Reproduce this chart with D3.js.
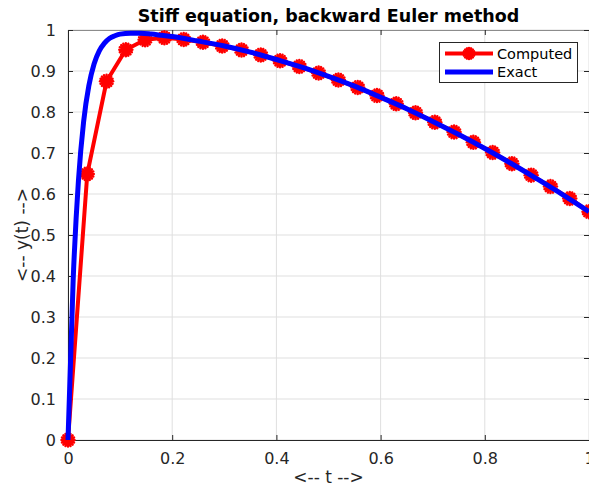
<!DOCTYPE html>
<html lang="en">
<head>
<meta charset="UTF-8">
<title>Stiff equation, backward Euler method</title>
<script src="https://cdn.jsdelivr.net/npm/d3@7"></script>
<style>
  body { margin: 0; background: #fff; font-family: "DejaVu Sans", sans-serif; }
</style>
</head>
<body>
<div id="chart"></div>
<script>
// computed solution (backward Euler, 28 points)
const tComputed = [0, 0.037, 0.074, 0.111, 0.148, 0.185, 0.222, 0.259, 0.296, 0.333,
  0.370, 0.407, 0.444, 0.481, 0.519, 0.556, 0.593, 0.630, 0.667, 0.704,
  0.741, 0.778, 0.815, 0.852, 0.889, 0.926, 0.963, 1.0];
const yComputed = [0, 0.649, 0.875, 0.952, 0.976, 0.981, 0.977, 0.970, 0.961, 0.951,
  0.939, 0.925, 0.911, 0.895, 0.878, 0.860, 0.840, 0.820, 0.798, 0.775,
  0.751, 0.726, 0.701, 0.674, 0.646, 0.618, 0.589, 0.557];

// exact solution
const tExact = [0, 0.01, 0.02, 0.03, 0.04, 0.05, 0.06, 0.07, 0.08, 0.09, 0.10, 0.12, 0.14,
  0.16, 0.18, 0.2, 0.25, 0.3, 0.35, 0.4, 0.45, 0.5, 0.55, 0.6, 0.65, 0.7, 0.75,
  0.8, 0.85, 0.9, 0.95, 1.0];
const yExact = [0, 0.393, 0.632, 0.777, 0.864, 0.917, 0.949, 0.968, 0.980, 0.986, 0.990, 0.992, 0.992,
  0.990, 0.987, 0.984, 0.973, 0.961, 0.946, 0.928, 0.909, 0.887, 0.863, 0.836, 0.808, 0.777, 0.745,
  0.711, 0.675, 0.637, 0.598, 0.557];

const xTicks = [0, 0.2, 0.4, 0.6, 0.8, 1];
const yTicks = [0, 0.1, 0.2, 0.3, 0.4, 0.5, 0.6, 0.7, 0.8, 0.9, 1];
const seriesNames = ["Computed", "Exact"];

const W = 589, H = 487;
const m = { left: 68, right: 0, top: 30, bottom: 47 };

const svg = d3.select("#chart").append("svg")
  .attr("width", W).attr("height", H)
  .style("font-family", "'DejaVu Sans', sans-serif");

const x = d3.scaleLinear().domain([0, 1]).range([m.left, W - m.right]);
const y = d3.scaleLinear().domain([0, 1]).range([H - m.bottom, m.top]);

const axColor = "#262626";

// grid
svg.append("g").selectAll("line.gx").data(xTicks).enter().append("line")
  .attr("x1", d => x(d)).attr("x2", d => x(d))
  .attr("y1", y(0)).attr("y2", y(1))
  .attr("stroke", "#dfdfdf").attr("stroke-width", 1);
svg.append("g").selectAll("line.gy").data(yTicks).enter().append("line")
  .attr("x1", x(0)).attr("x2", x(1))
  .attr("y1", d => y(d)).attr("y2", d => y(d))
  .attr("stroke", "#dfdfdf").attr("stroke-width", 1);

// axes (ticks inward)
const xAxis = svg.append("g").attr("transform", `translate(0,${y(0)})`)
  .call(d3.axisBottom(x).tickValues(xTicks).tickSizeInner(-5).tickSizeOuter(0)
    .tickPadding(13).tickFormat(d3.format("")));
const xAxisTop = svg.append("g").attr("transform", `translate(0,${y(1)})`)
  .call(d3.axisTop(x).tickValues(xTicks).tickSizeInner(-5).tickSizeOuter(0).tickFormat(""));
const yAxis = svg.append("g").attr("transform", `translate(${x(0)},0)`)
  .call(d3.axisLeft(y).tickValues(yTicks).tickSizeInner(-5).tickSizeOuter(0)
    .tickPadding(12).tickFormat(d3.format("")));
const yAxisRight = svg.append("g").attr("transform", `translate(${x(1)},0)`)
  .call(d3.axisRight(y).tickValues(yTicks).tickSizeInner(-5).tickSizeOuter(0).tickFormat(""));

[xAxis, xAxisTop, yAxis, yAxisRight].forEach(g => {
  g.selectAll("path").attr("stroke", axColor).attr("stroke-width", 1);
  g.selectAll("line").attr("stroke", axColor);
  g.selectAll("text").attr("fill", axColor).style("font-size", "16px")
    .style("font-family", "'DejaVu Sans', sans-serif");
});
xAxisTop.select("path").attr("stroke", "#8c8c8c");

// lines
const line = d3.line().x(d => x(d[0])).y(d => y(d[1]));
const computed = tComputed.map((t, i) => [t, yComputed[i]]);
const exact = tExact.map((t, i) => [t, yExact[i]]);

svg.append("path").datum(computed).attr("d", line)
  .attr("fill", "none").attr("stroke", "#ff0000").attr("stroke-width", 4)
  .attr("stroke-linejoin", "round");

// asterisk markers
function star(g, cx, cy, r) {
  for (let k = 0; k < 8; k++) {
    const a = k * Math.PI / 8;
    g.append("line")
      .attr("x1", cx - r * Math.cos(a)).attr("y1", cy - r * Math.sin(a))
      .attr("x2", cx + r * Math.cos(a)).attr("y2", cy + r * Math.sin(a))
      .attr("stroke", "#ff0000").attr("stroke-width", 2.5).attr("stroke-linecap", "round");
  }
  g.append("circle").attr("cx", cx).attr("cy", cy).attr("r", r - 2).attr("fill", "#ff0000");
}
const mk = svg.append("g");
computed.forEach(d => star(mk, x(d[0]), y(d[1]), 6.5));

svg.append("path").datum(exact).attr("d", line.curve(d3.curveMonotoneX))
  .attr("fill", "none").attr("stroke", "#0000ff").attr("stroke-width", 5)
  .attr("stroke-linejoin", "round");

// title
svg.append("text").attr("x", (x(0) + x(1)) / 2).attr("y", 22)
  .attr("text-anchor", "middle").style("font-size", "17.5px").style("font-weight", "bold")
  .attr("fill", "#000").text("Stiff equation, backward Euler method");

// axis labels
svg.append("text").attr("x", (x(0) + x(1)) / 2).attr("y", 483)
  .attr("text-anchor", "middle").style("font-size", "17px").attr("fill", axColor)
  .text("<-- t -->");
svg.append("text").attr("transform", `translate(28,${(y(0) + y(1)) / 2}) rotate(-90)`)
  .attr("text-anchor", "middle").style("font-size", "17px").attr("fill", axColor)
  .text("<-- y(t) -->");

// legend
const lg = svg.append("g");
lg.append("rect").attr("x", 439.5).attr("y", 42.5).attr("width", 138).attr("height", 40)
  .attr("fill", "#fff").attr("stroke", axColor).attr("stroke-width", 1);
const legColors = ["#ff0000", "#0000ff"];
seriesNames.forEach((name, i) => {
  const ly = 53.5 + i * 18.5;
  lg.append("line").attr("x1", 445).attr("x2", 493).attr("y1", ly).attr("y2", ly)
    .attr("stroke", legColors[i]).attr("stroke-width", i === 0 ? 4 : 5);
  if (i === 0) star(lg, 469, ly, 5.5);
  lg.append("text").attr("x", 497).attr("y", ly + 5).style("font-size", "14.5px")
    .attr("fill", "#000").text(name);
});
</script>
</body>
</html>
